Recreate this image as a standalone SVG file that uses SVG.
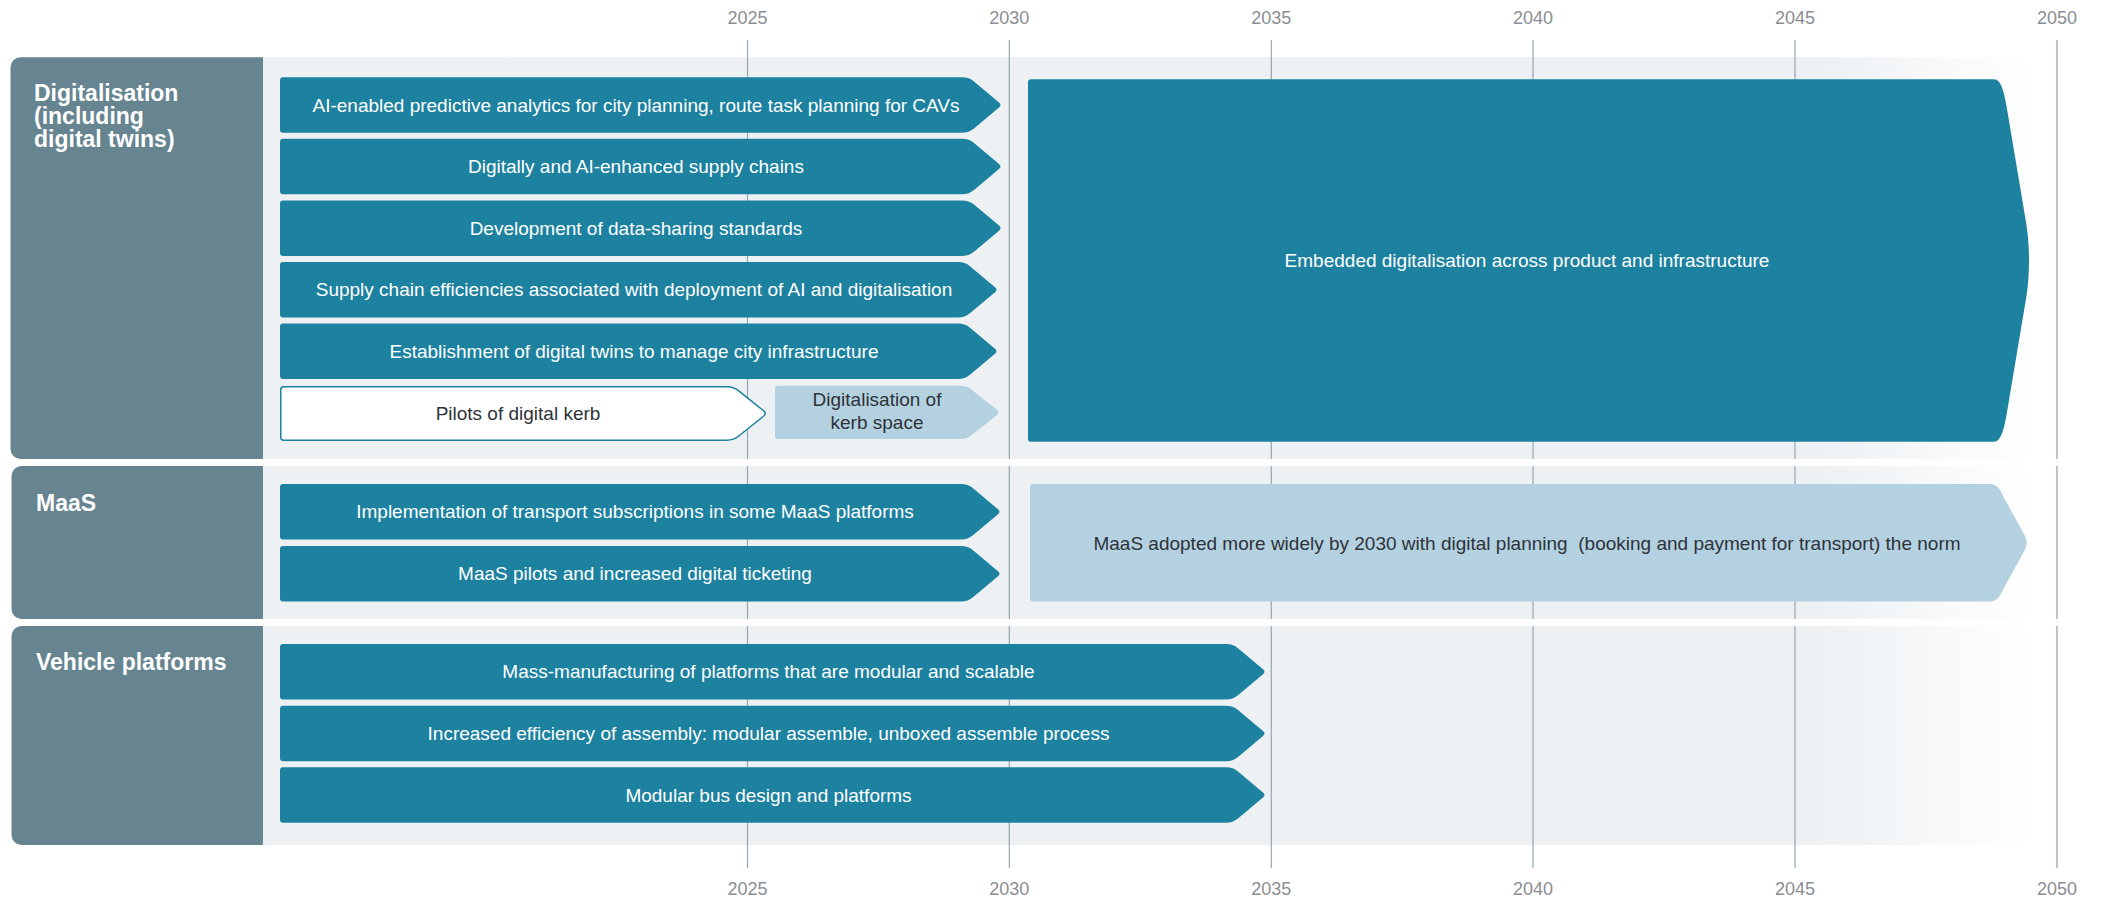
<svg xmlns="http://www.w3.org/2000/svg" width="2107" height="899" viewBox="0 0 2107 899">
<defs>
<linearGradient id="bandGrad" gradientUnits="userSpaceOnUse" x1="1820" y1="0" x2="2035" y2="0">
<stop offset="0" stop-color="#edf1f4"/>
<stop offset="1" stop-color="#ffffff"/>
</linearGradient>
<style>
.band{fill:url(#bandGrad);}
.panel{fill:#668591;}
.head{font-family:"Liberation Sans",Arial,sans-serif;font-weight:bold;font-size:23px;fill:#ffffff;}
.grid{stroke:#94a7b4;stroke-width:1.2;fill:none;}
.year{font-family:"Liberation Sans",Arial,sans-serif;font-size:18px;fill:#8a8e94;text-anchor:middle;}
.teal{fill:#1d81a0;}
.light{fill:#b4d1e1;}
.outline{fill:#ffffff;stroke:#1d81a0;stroke-width:1.5;}
.wt{font-family:"Liberation Sans",Arial,sans-serif;font-size:19px;fill:#ffffff;text-anchor:middle;}
.dt{font-family:"Liberation Sans",Arial,sans-serif;font-size:19px;fill:#2e3338;text-anchor:middle;}
</style>
</defs>
<rect width="2107" height="899" fill="#ffffff"/>

<g id="bands">
<rect class="band" x="263" y="57.3" width="1772" height="401.7"/>
<rect class="band" x="263" y="466" width="1772" height="153"/>
<rect class="band" x="263" y="626" width="1772" height="219"/>
</g>

<g id="axis">
<g class="grid">
<path d="M747.5,40V459M747.5,466V619M747.5,626V868"/>
<path d="M1009.3,40V459M1009.3,466V619M1009.3,626V868"/>
<path d="M1271.3,40V459M1271.3,466V619M1271.3,626V868"/>
<path d="M1533,40V459M1533,466V619M1533,626V868"/>
<path d="M1795,40V459M1795,466V619M1795,626V868"/>
<path d="M2057,40V459M2057,466V619M2057,626V868" stroke="#b9c6ce" stroke-width="2"/>
</g>
<text class="year" x="747.5" y="24">2025</text>
<text class="year" x="1009.3" y="24">2030</text>
<text class="year" x="1271.3" y="24">2035</text>
<text class="year" x="1533" y="24">2040</text>
<text class="year" x="1795" y="24">2045</text>
<text class="year" x="2057" y="24">2050</text>
<text class="year" x="747.5" y="895">2025</text>
<text class="year" x="1009.3" y="895">2030</text>
<text class="year" x="1271.3" y="895">2035</text>
<text class="year" x="1533" y="895">2040</text>
<text class="year" x="1795" y="895">2045</text>
<text class="year" x="2057" y="895">2050</text>
</g>

<g id="panel-digitalisation">
<path class="panel" d="M20.5,57.3H263V459H20.5A10,10 0 0 1 10.5,449V67.3A10,10 0 0 1 20.5,57.3Z"/>
<text class="head" x="34" y="101">Digitalisation</text>
<text class="head" x="34" y="124">(including</text>
<text class="head" x="34" y="147">digital twins)</text>
</g>
<g id="panel-maas">
<path class="panel" d="M21.5,466H263V619H21.5A10,10 0 0 1 11.5,609V476A10,10 0 0 1 21.5,466Z"/>
<text class="head" x="36" y="510.7">MaaS</text>
</g>
<g id="panel-vehicle">
<path class="panel" d="M21.5,626H263V845H21.5A10,10 0 0 1 11.5,835V636A10,10 0 0 1 21.5,626Z"/>
<text class="head" x="36" y="670">Vehicle platforms</text>
</g>

<g id="d1">
<path class="teal" transform="translate(280,77.3)" d="M3,0H682Q689,0 694,4.2L719,25.2Q722,27.75 719,30.3L694,51.3Q689,55.5 682,55.5H3Q0,55.5 0,52.5V3Q0,0 3,0Z"/>
<text class="wt" x="636" y="111.8">AI-enabled predictive analytics for city planning, route task planning for CAVs</text>
</g>
<g id="d2">
<path class="teal" transform="translate(280,138.8)" d="M3,0H682Q689,0 694,4.2L719,25.2Q722,27.75 719,30.3L694,51.3Q689,55.5 682,55.5H3Q0,55.5 0,52.5V3Q0,0 3,0Z"/>
<text class="wt" x="636" y="173.2">Digitally and AI-enhanced supply chains</text>
</g>
<g id="d3">
<path class="teal" transform="translate(280,200.4)" d="M3,0H682Q689,0 694,4.2L719,25.2Q722,27.75 719,30.3L694,51.3Q689,55.5 682,55.5H3Q0,55.5 0,52.5V3Q0,0 3,0Z"/>
<text class="wt" x="636" y="234.8">Development of data-sharing standards</text>
</g>
<g id="d4">
<path class="teal" transform="translate(280,262)" d="M3,0H678Q685,0 690,4.2L715,25.2Q718,27.75 715,30.3L690,51.3Q685,55.5 678,55.5H3Q0,55.5 0,52.5V3Q0,0 3,0Z"/>
<text class="wt" x="634" y="296.4">Supply chain efficiencies associated with deployment of AI and digitalisation</text>
</g>
<g id="d5">
<path class="teal" transform="translate(280,323.5)" d="M3,0H678Q685,0 690,4.2L715,25.2Q718,27.75 715,30.3L690,51.3Q685,55.5 678,55.5H3Q0,55.5 0,52.5V3Q0,0 3,0Z"/>
<text class="wt" x="634" y="357.9">Establishment of digital twins to manage city infrastructure</text>
</g>
<g id="d6">
<path class="outline" transform="translate(280.75,386.7)" d="M3,0H446Q453,0 458,4.2L483,24.2Q486,26.75 483,29.3L458,49.3Q453,53.5 446,53.5H3Q0,53.5 0,50.5V3Q0,0 3,0Z"/>
<text class="dt" x="518" y="420">Pilots of digital kerb</text>
</g>
<g id="d7">
<path class="light" transform="translate(775,385.7)" d="M3,0H185Q192,0 197,4.2L222,24.1Q225,26.65 222,29.2L197,49.1Q192,53.3 185,53.3H3Q0,53.3 0,50.3V3Q0,0 3,0Z"/>
<text class="dt" x="877" y="406">Digitalisation of</text>
<text class="dt" x="877" y="428.8">kerb space</text>
</g>
<g id="d8">
<path class="teal" d="M1031,79.3H1994C2001,79.3 2004,92 2006.5,106L2026,222C2030,245 2030,276 2026,299L2006.5,415C2004,429 2001,441.7 1994,441.7H1031Q1028,441.7 1028,438.7V82.3Q1028,79.3 1031,79.3Z"/>
<text class="wt" x="1527" y="267">Embedded digitalisation across product and infrastructure</text>
</g>

<g id="m1">
<path class="teal" transform="translate(280,484)" d="M3,0H681Q688,0 693,4.2L718,25.2Q721,27.75 718,30.3L693,51.3Q688,55.5 681,55.5H3Q0,55.5 0,52.5V3Q0,0 3,0Z"/>
<text class="wt" x="635" y="518.3">Implementation of transport subscriptions in some MaaS platforms</text>
</g>
<g id="m2">
<path class="teal" transform="translate(280,546)" d="M3,0H681Q688,0 693,4.2L718,25.2Q721,27.75 718,30.3L693,51.3Q688,55.5 681,55.5H3Q0,55.5 0,52.5V3Q0,0 3,0Z"/>
<text class="wt" x="635" y="580.3">MaaS pilots and increased digital ticketing</text>
</g>
<g id="m3">
<path class="light" d="M1033,484H1990C1997,484 2000,489 2003,496L2024,534C2027.5,540 2027.5,545.5 2024,551.5L2003,589.5C2000,596.5 1997,601.5 1990,601.5H1033Q1030,601.5 1030,598.5V487Q1030,484 1033,484Z"/>
<text class="dt" x="1527" y="549.5" font-size="20" xml:space="preserve">MaaS adopted more widely by 2030 with digital planning  (booking and payment for transport) the norm</text>
</g>

<g id="v1">
<path class="teal" transform="translate(280,644)" d="M3,0H946Q953,0 958,4.2L983,25.2Q986,27.75 983,30.3L958,51.3Q953,55.5 946,55.5H3Q0,55.5 0,52.5V3Q0,0 3,0Z"/>
<text class="wt" x="768.5" y="678.3">Mass-manufacturing of platforms that are modular and scalable</text>
</g>
<g id="v2">
<path class="teal" transform="translate(280,705.7)" d="M3,0H946Q953,0 958,4.2L983,25.2Q986,27.75 983,30.3L958,51.3Q953,55.5 946,55.5H3Q0,55.5 0,52.5V3Q0,0 3,0Z"/>
<text class="wt" x="768.5" y="740">Increased efficiency of assembly: modular assemble, unboxed assemble process</text>
</g>
<g id="v3">
<path class="teal" transform="translate(280,767.2)" d="M3,0H946Q953,0 958,4.2L983,25.2Q986,27.75 983,30.3L958,51.3Q953,55.5 946,55.5H3Q0,55.5 0,52.5V3Q0,0 3,0Z"/>
<text class="wt" x="768.5" y="801.5">Modular bus design and platforms</text>
</g>
<g id="connectors"></g>
</svg>
